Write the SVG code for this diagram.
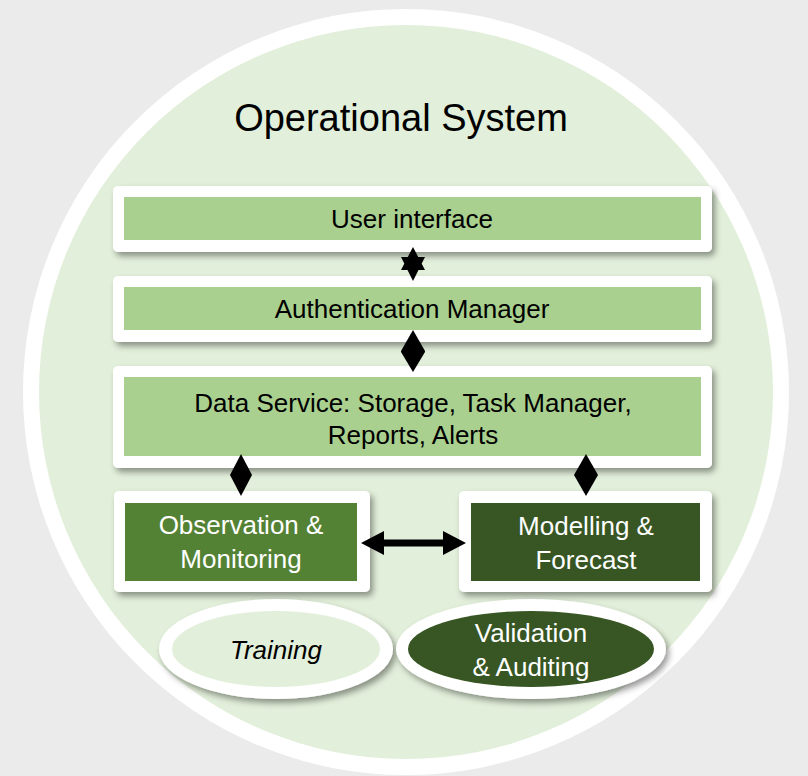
<svg xmlns="http://www.w3.org/2000/svg" width="808" height="776" viewBox="0 0 808 776">
<defs>
<filter id="sh" x="-10%" y="-20%" width="125%" height="150%">
<feDropShadow dx="3" dy="4" stdDeviation="3" flood-color="#000" flood-opacity="0.4"/>
</filter>
<style>
.t{font-family:"Liberation Sans",Arial,sans-serif;text-anchor:middle;}
.dk{fill:#000;font-size:26px;}
.wt{fill:#fff;font-size:26px;}
.outer{fill:#fff;filter:url(#sh);}
.lg{fill:#A9D08E;}
.mg{fill:#548235;}
.dg{fill:#375623;}
.arr{fill:#000;}
</style>
</defs>
<rect x="0" y="0" width="808" height="776" fill="#EBEBEB"/>
<g id="system">
<circle cx="406" cy="392" r="383" fill="#fff"/>
<circle cx="406" cy="392" r="367" fill="#E2EFDA"/>
<text class="t" x="401" y="131" style="font-size:38px" fill="#000">Operational System</text>
</g>
<g id="user-interface">
<rect class="outer" x="113" y="186" width="599" height="66" rx="5"/>
<rect class="lg" x="124" y="197" width="577" height="43"/>
<text class="t dk" x="412" y="228">User interface</text>
</g>
<g id="authentication-manager">
<rect class="outer" x="113" y="276" width="599" height="66" rx="5"/>
<rect class="lg" x="124" y="287" width="577" height="43"/>
<text class="t dk" x="412" y="318">Authentication Manager</text>
</g>
<g id="data-service">
<rect class="outer" x="113" y="366" width="599" height="102" rx="5"/>
<rect class="lg" x="124" y="377" width="577" height="79"/>
<text class="t dk" x="413" y="412">Data Service: Storage, Task Manager,</text>
<text class="t dk" x="413" y="444">Reports, Alerts</text>
</g>
<g id="observation-monitoring">
<rect class="outer" x="114" y="491" width="256" height="101" rx="5"/>
<rect class="mg" x="125" y="503" width="232" height="78"/>
<text class="t wt" x="241" y="534">Observation &amp;</text>
<text class="t wt" x="241" y="568">Monitoring</text>
</g>
<g id="modelling-forecast">
<rect class="outer" x="459" y="491" width="253" height="101" rx="5"/>
<rect class="dg" x="471" y="503" width="229" height="78"/>
<text class="t wt" x="586" y="535">Modelling &amp;</text>
<text class="t wt" x="586" y="569">Forecast</text>
</g>
<g id="training">
<ellipse cx="276" cy="649" rx="117" ry="50" fill="#fff" filter="url(#sh)"/>
<ellipse cx="276" cy="649" rx="104" ry="38" fill="#E2EFDA"/>
<text class="t dk" x="276" y="659" style="font-style:italic">Training</text>
</g>
<g id="validation-auditing">
<ellipse cx="531" cy="649" rx="135" ry="50" fill="#fff" filter="url(#sh)"/>
<ellipse cx="531" cy="649" rx="123" ry="38" fill="#375623"/>
<text class="t wt" x="531" y="642">Validation</text>
<text class="t wt" x="531" y="676">&amp; Auditing</text>
</g>
<g id="connectors">
<path class="arr" d="M413,247 L425,270 L401,270 Z M413,281 L401,257 L425,257 Z"/>
<path class="arr" d="M413,330 L425,351 L425,352 L413,372 L401,352 L401,351 Z"/>
<path class="arr" d="M241,454 L252,475 L241,496 L230,475 Z"/>
<path class="arr" d="M586,454 L598,475 L586,496 L574,475 Z"/>
<path class="arr" d="M361,543 L384,531 L384,539.5 L443,539.5 L443,531 L466,543 L443,555 L443,546.5 L384,546.5 L384,555 Z"/>
</g>
</svg>
